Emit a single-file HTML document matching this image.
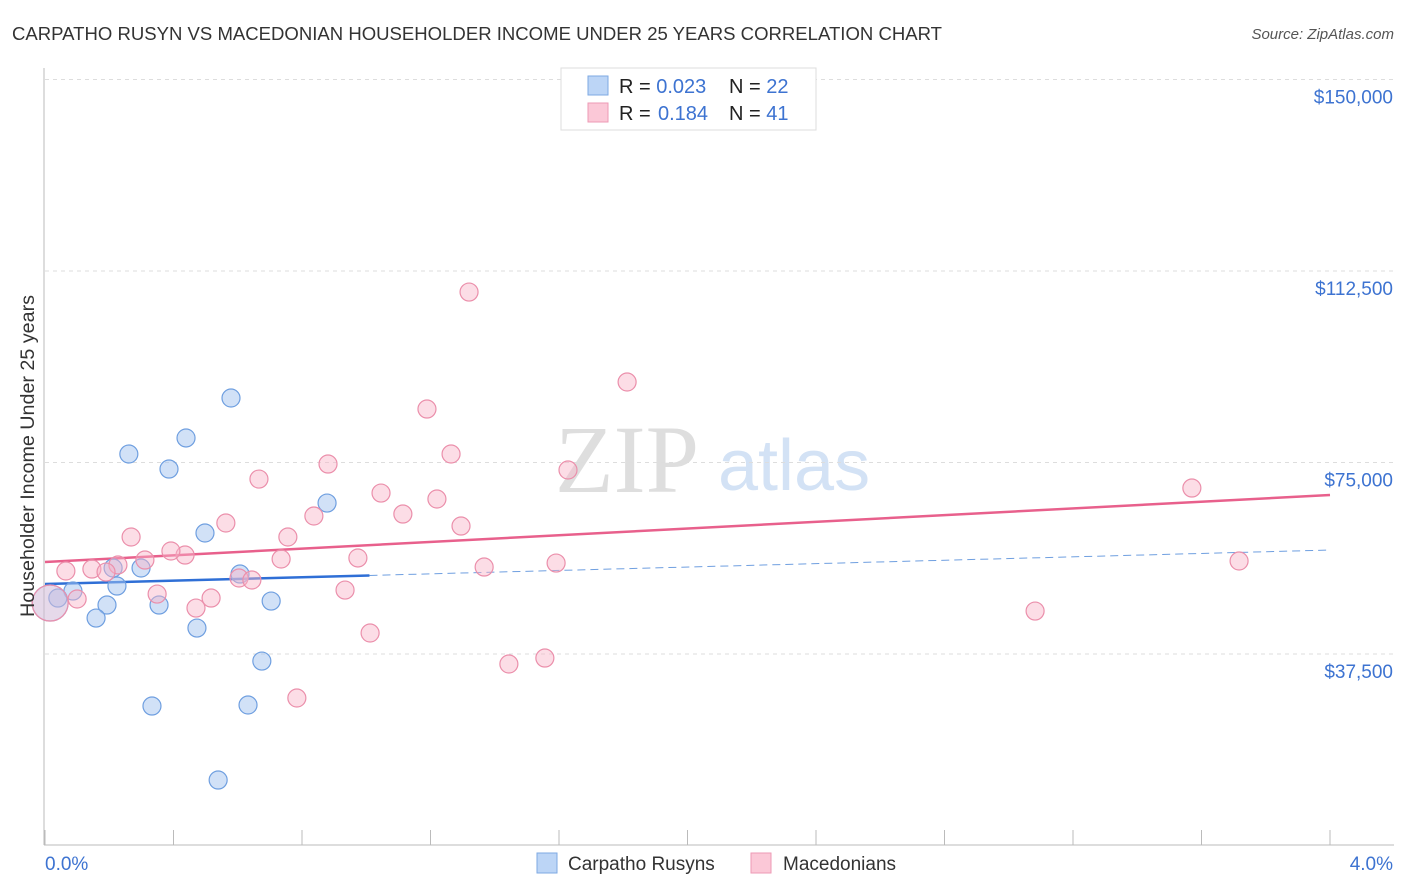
<!DOCTYPE html>
<html><head><meta charset="utf-8"><style>
body{margin:0;background:#fff;font-family:"Liberation Sans",sans-serif}
svg{display:block}
</style></head><body>
<svg id="chart" width="1406" height="892">
<text x="12" y="40" font-size="18" fill="#333" textLength="930" lengthAdjust="spacingAndGlyphs">CARPATHO RUSYN VS MACEDONIAN HOUSEHOLDER INCOME UNDER 25 YEARS CORRELATION CHART</text>
<text x="1394" y="39" font-size="15" fill="#555" font-style="italic" text-anchor="end">Source: ZipAtlas.com</text>
<g>
<text x="555" y="492" font-size="96" font-family="Liberation Serif,serif" fill="#dedede">ZIP</text>
<text x="718" y="490" font-size="72" fill="#d3e2f5">atlas</text>
</g>
<g id="grid"></g><g id="axes"></g><g id="trends"></g><g id="pts"></g>
<text transform="translate(34,456) rotate(-90)" font-size="19" fill="#333" text-anchor="middle" textLength="322" lengthAdjust="spacingAndGlyphs">Householder Income Under 25 years</text>
<g>
<rect x="561" y="68" width="255" height="62" fill="#fff" stroke="#ddd"/>
<rect x="588" y="76" width="20" height="19" fill="#bcd5f6" stroke="#7ea9e3"/>
<rect x="588" y="103" width="20" height="19" fill="#fbc8d7" stroke="#ee9ab4"/>
<text x="619" y="93" font-size="20" fill="#222">R = <tspan fill="#3d73d1">0.023</tspan><tspan x="729">N = </tspan><tspan fill="#3d73d1">22</tspan></text>
<text x="619" y="120" font-size="20" fill="#222">R = <tspan x="658" fill="#3d73d1">0.184</tspan><tspan x="729">N = </tspan><tspan fill="#3d73d1">41</tspan></text>
</g>
<g>
<rect x="537" y="853" width="20" height="20" fill="#bcd5f6" stroke="#7ea9e3"/>
<text x="568" y="870" font-size="19" fill="#333">Carpatho Rusyns</text>
<rect x="751" y="853" width="20" height="20" fill="#fbc8d7" stroke="#ee9ab4"/>
<text x="783" y="870" font-size="19" fill="#333">Macedonians</text>
</g>
</svg>
<script>
const yTicks=[37500,75000,112500,150000];
const yTickLabels=["$37,500","$75,000","$112,500","$150,000"];
const xTickLabels=["0.0%","4.0%"];
const blueX=[0.579,0.439,0.261,0.386,0.878,0.498,0.212,0.299,0.607,0.224,0.087,0.040,0.193,0.355,0.704,0.159,0.473,0.675,0.333,0.632,0.539,0.016];
const blueY=[87630,79800,76660,73720,67060,61190,54340,54340,53160,50810,49830,48460,47090,47090,47870,44540,42580,36120,27310,27510,12820,47480];
const pinkX=[1.320,1.812,1.189,1.264,0.881,1.628,3.570,0.666,1.046,1.220,0.837,1.114,1.295,0.563,0.268,0.756,0.311,0.436,0.392,0.227,0.974,0.735,0.146,0.190,0.065,1.591,1.367,3.717,0.604,0.644,0.349,0.517,0.934,0.100,0.470,3.082,1.012,1.556,1.444,0.784,0.016];
const pinkY=[108380,90760,85470,76660,74700,73530,70000,71760,69020,67850,64520,64910,62560,63150,60410,60410,55900,56880,57670,54930,56300,56100,54140,53550,53750,55310,54530,55710,52380,51990,49240,48460,50020,48270,46500,45910,41610,36710,35540,28880,47480];
const blueTrend=[51200,57860];const blueSolidEnd=1.01;
const pinkTrend=[55510,68630];
const X=v=>45+v/4*1285, Y=v=>845.5-v/37500*191.5;
const NS="http://www.w3.org/2000/svg";
function mk(p,t,a){const e=document.createElementNS(NS,t);for(const k in a)e.setAttribute(k,a[k]);p.appendChild(e);return e;}
const grid=document.getElementById('grid'),axes=document.getElementById('axes'),tr=document.getElementById('trends'),pts=document.getElementById('pts');
yTicks.forEach((v,i)=>{
 const l=mk(grid,'line',{x1:45,x2:1394,y1:Y(v),y2:Y(v),stroke:'#ddd','stroke-dasharray':'4,4'});
 
 
 const t=mk(axes,'text',{x:1393,y:Y(v)+24,'font-size':19,fill:'#3d73d1','text-anchor':'end'});t.textContent=yTickLabels[i];
 
 
});
const ax=mk(axes,'line',{x1:44,x2:44,y1:68,y2:845,stroke:'#bbb'});


const bx=mk(axes,'line',{x1:44,x2:1394,y1:845,y2:845,stroke:'#bbb'});


for(let i=0;i<=10;i++){const t=mk(axes,'line',{x1:X(i*0.4),x2:X(i*0.4),y1:830,y2:845,stroke:'#bbb'});
 
 }
[[0,'start',45],[4,'end',1393]].forEach((d,i)=>{const t=mk(axes,'text',{x:d[2],y:870,'font-size':19,fill:'#3d73d1','text-anchor':d[1]});t.textContent=xTickLabels[i];
 
 });
const byAt=x=>blueTrend[0]+(blueTrend[1]-blueTrend[0])*x/4;
let l1=mk(tr,'line',{x1:X(0),y1:Y(blueTrend[0]),x2:X(blueSolidEnd),y2:Y(byAt(blueSolidEnd)),stroke:'#2f6fd6','stroke-width':2.5});


let l2=mk(tr,'line',{x1:X(blueSolidEnd),y1:Y(byAt(blueSolidEnd)),x2:X(4),y2:Y(blueTrend[1]),stroke:'#6f9fe0','stroke-width':1,'stroke-dasharray':'8,5'});


let l3=mk(tr,'line',{x1:X(0),y1:Y(pinkTrend[0]),x2:X(4),y2:Y(pinkTrend[1]),stroke:'#e8608c','stroke-width':2.5});


function dots(xs,ys,fill,stroke,name,bigFill){xs.forEach((x,i)=>{const big=i===xs.length-1&&x<0.05;
 const c=mk(pts,'circle',{cx:X(x),cy:Y(ys[i]),r:big?18:9,fill:big?bigFill:fill,stroke:stroke,'stroke-width':1.2});
 
 });}
dots(blueX,blueY,'rgba(164,196,240,0.5)','#6f9fe0','carpatho-rusyn-point','rgba(164,196,240,0.35)');
dots(pinkX,pinkY,'rgba(248,180,200,0.45)','#eb8fab','macedonian-point','rgba(248,180,200,0.3)');
</script>
</body></html>
